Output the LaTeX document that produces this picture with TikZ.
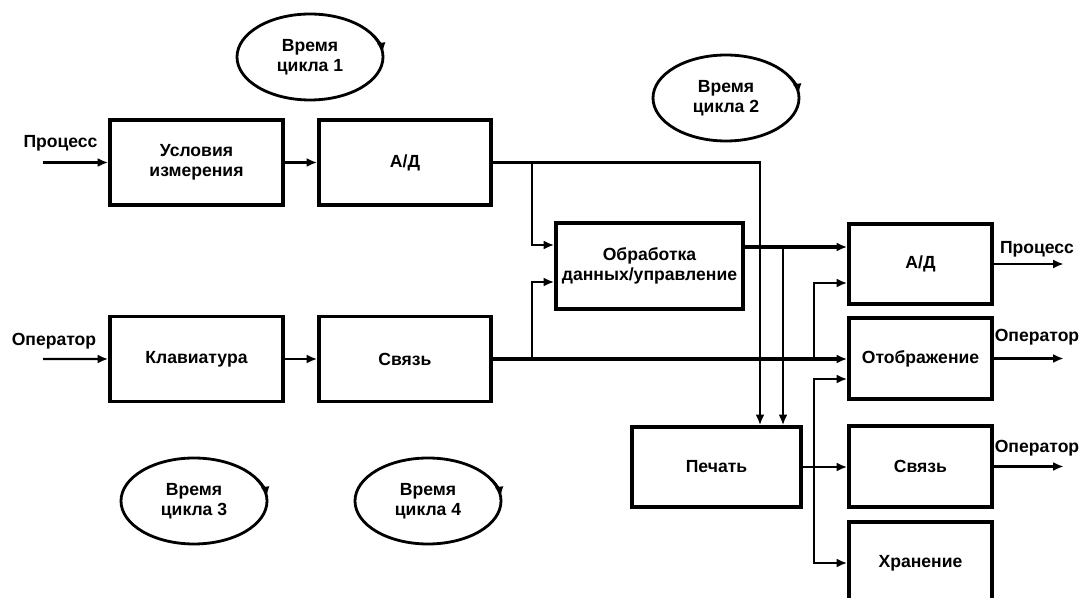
\documentclass[tikz,border=0pt]{standalone}
\usepackage{fontspec}
\setmainfont{Liberation Sans}
\usepackage{tikz}
\usetikzlibrary{positioning,arrows.meta,shapes.geometric}

\tikzset{
  blk/.style={draw, line width=2pt, align=center, inner sep=2pt},
  cyc/.style={ellipse, draw, line width=1.6pt, inner sep=0pt, minimum width=2.92cm, minimum height=1.72cm, align=center},
  lbl/.style={inner sep=1pt},
  ln/.style={line width=1.3pt},
  bus/.style={line width=2.6pt},
}

\begin{document}
\begin{tikzpicture}[>={Latex[length=6pt,width=5pt]}, node distance=2cm, on grid,
    font=\fontsize{10}{11.5}\selectfont\bfseries]
  \useasboundingbox (0,0) rectangle (21.64,-11.96);

  % left part
  \node[blk, minimum width=3.46cm, minimum height=1.7cm] (U) at (3.93,-3.25) {Условия\\измерения};
  \node[blk, minimum width=3.44cm, minimum height=1.7cm] (AD1) [right=4.17cm of U] {А/Д};
  \node[blk, minimum width=3.46cm, minimum height=1.7cm] (K) [below=3.93cm of U] {Клавиатура};
  \node[blk, minimum width=3.44cm, minimum height=1.7cm] (C1) [right=4.17cm of K] {Связь};

  % middle
  \node[blk, minimum width=3.74cm, minimum height=1.72cm] (P) at (12.99,-5.32) {Обработка\\данных/управление};
  \node[blk, minimum width=3.38cm, minimum height=1.6cm] (Pr) at (14.33,-9.34) {Печать};

  % right column
  \node[blk, minimum width=2.86cm, minimum height=1.6cm] (AD2) at (18.41,-5.28) {А/Д};
  \node[blk, minimum width=2.86cm, minimum height=1.62cm] (D) [below=1.89cm of AD2] {Отображение};
  \node[blk, minimum width=2.86cm, minimum height=1.62cm] (C2) [below=2.16cm of D] {Связь};
  \node[blk, minimum width=2.86cm, minimum height=1.64cm] (H) [below=1.93cm of C2] {Хранение};

  % cycle times
  \node[cyc] (T1) at (6.20,-1.14) {Время\\цикла 1};
  \node[cyc] (T2) at (14.52,-1.96) {Время\\цикла 2};
  \node[cyc] (T3) at (3.88,-10.02) {Время\\цикла 3};
  \node[cyc] (T4) at (8.56,-10.02) {Время\\цикла 4};
  \foreach \t in {T1,T2,T3,T4}
    \draw[line width=1.6pt,->] ([shift={(30:1.46cm and 0.86cm)}]\t.center)
      arc[start angle=30, end angle=5, x radius=1.46cm, y radius=0.86cm];

  % inputs
  \coordinate (iU) at (0.86,-3.25);
  \coordinate (iK) at (0.86,-7.18);
  \node[lbl] (tU) at (1.21,-2.86) {Процесс};
  \node[lbl] (tK) at (1.08,-6.82) {Оператор};
  \draw[ln,->] (iU) -- (U.west);
  \draw[ln,->] (iK) -- (K.west);
  \draw[ln,->] (U) -- (AD1);
  \draw[ln,->] (K) -- (C1);

  % vertical lines
  \coordinate (xa) at (10.64,0);
  \coordinate (xb) at (15.20,0);
  \coordinate (xc) at (15.66,0);
  \coordinate (xd) at (16.28,0);

  \draw[ln,->] (AD1.east) -| (Pr.north -| xb);
  \draw[ln,->] (AD1.east -| xa) |- ([yshift=0.42cm]P.west);
  \draw[bus,->] (C1.east) -- (C1.east -| D.west);
  \draw[ln,->] (C1.east -| xa) |- ([yshift=-0.32cm]P.west);
  \draw[bus,->] ([yshift=0.38cm]P.east) -- ([yshift=0.38cm]P.east -| AD2.west);
  \draw[ln,->] ([yshift=0.38cm]P.east -| xc) -- (Pr.north -| xc);
  \draw[ln,->] (C1.east -| xd) |- ([yshift=-0.38cm]AD2.west);
  \draw[ln,->] (Pr.east) -- (Pr.east -| C2.west);
  \draw[ln,->] (Pr.east -| xd) |- ([yshift=-0.41cm]D.west);
  \draw[ln,->] (Pr.east -| xd) |- (H.west);

  % outputs
  \coordinate[right=1.40cm of AD2.east] (oAD);
  \coordinate[right=1.40cm of D.east] (oD);
  \coordinate[right=1.40cm of C2.east] (oC);
  \draw[ln,->] (AD2.east) -- (oAD);
  \draw[ln,->] (D.east) -- (oD);
  \draw[ln,->] (C2.east) -- (oC);
  \node[lbl] (tAD) at (20.74,-4.98) {Процесс};
  \node[lbl] (tD) at (20.74,-6.74) {Оператор};
  \node[lbl] (tC) at (20.74,-8.96) {Оператор};
\end{tikzpicture}
\end{document}
